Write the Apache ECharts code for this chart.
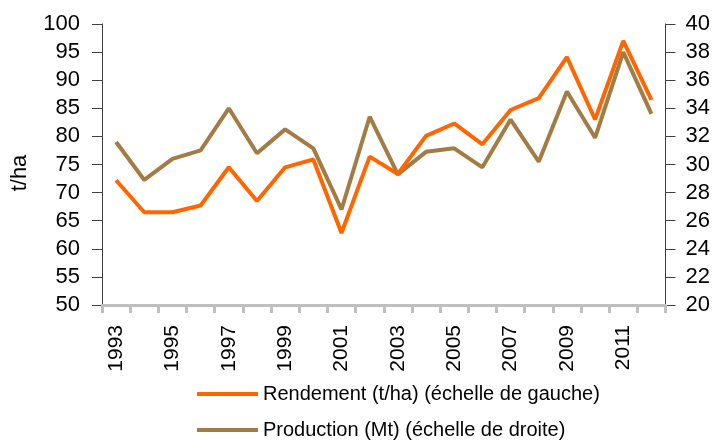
<!DOCTYPE html>
<html>
<head>
<meta charset="utf-8">
<script src="https://cdn.jsdelivr.net/npm/echarts@6/dist/echarts.min.js"></script>
<style>html,body{margin:0;padding:0;background:#fff}#c{width:713px;height:441px}</style>
</head>
<body>
<div id="c"></div>
<script>
const years = ['1993','1994','1995','1996','1997','1998','1999','2000','2001','2002','2003','2004','2005','2006','2007','2008','2009','2010','2011','2012'];
const rendement = [72.2,66.5,66.5,67.7,74.5,68.5,74.5,75.9,62.8,76.4,73.3,80.1,82.3,78.6,84.7,86.8,94.1,83.0,97.0,86.5];
const production = [31.6,28.9,30.4,31.0,34.0,30.8,32.5,31.15,26.8,33.4,29.3,30.9,31.15,29.8,33.2,30.2,35.2,31.9,38.0,33.6];
const leftTicks = {min:50, max:100, interval:5};
const rightTicks = {min:20, max:40, interval:2};
const names = ['Rendement (t/ha) (échelle de gauche)','Production (Mt) (échelle de droite)'];

const FONT = 'Liberation Sans, Arial, sans-serif';
const NARROW = 'Liberation Sans Narrow, Arial Narrow, Liberation Sans, sans-serif';
const chart = echarts.init(document.getElementById('c'));
const legendBase = {
  orient:'horizontal', left:192, icon:'rect', itemWidth:61, itemHeight:4,
  textStyle:{fontSize:20,color:'#000',fontFamily:FONT}
};
chart.setOption({
  animation:false,
  textStyle:{fontFamily:FONT},
  grid:{left:102,right:45,top:24,bottom:136},
  legend:[
    Object.assign({}, legendBase, {top:379, data:[names[0]]}),
    Object.assign({}, legendBase, {top:415, data:[names[1]]})
  ],
  graphic:[{type:'text',x:20,y:173,rotation:Math.PI/2,
    style:{text:'t/ha',fontSize:22,fill:'#000',fontFamily:FONT,align:'center',verticalAlign:'middle'}}],
  xAxis:{
    type:'category', data:years, boundaryGap:true,
    axisLine:{lineStyle:{color:'#bfbfbf',width:3}},
    axisTick:{show:true,interval:0,length:8,lineStyle:{color:'#bfbfbf',width:3}},
    axisLabel:{interval:1,rotate:90,margin:20,fontSize:21,color:'#000',fontFamily:NARROW}
  },
  yAxis:[{
    type:'value', min:leftTicks.min, max:leftTicks.max, interval:leftTicks.interval,
    splitLine:{show:false},
    axisLine:{show:true,lineStyle:{color:'#404040',width:1}},
    axisTick:{show:true,length:10,lineStyle:{color:'#404040'}},
    axisLabel:{margin:22,fontSize:22,color:'#000',fontFamily:NARROW}
  },{
    type:'value', min:rightTicks.min, max:rightTicks.max, interval:rightTicks.interval,
    splitLine:{show:false},
    axisLine:{show:true,lineStyle:{color:'#404040',width:1}},
    axisTick:{show:true,length:10,lineStyle:{color:'#404040'}},
    axisLabel:{margin:20,fontSize:22,color:'#000',fontFamily:NARROW}
  }],
  series:[{
    name:names[0], type:'line', yAxisIndex:0, data:rendement, z:3,
    symbol:'none', color:'#ff6600', lineStyle:{width:4,color:'#ff6600'}
  },{
    name:names[1], type:'line', yAxisIndex:1, data:production, z:2,
    symbol:'none', color:'#a27b45', lineStyle:{width:4,color:'#a27b45'}
  }]
});
</script>
</body>
</html>
